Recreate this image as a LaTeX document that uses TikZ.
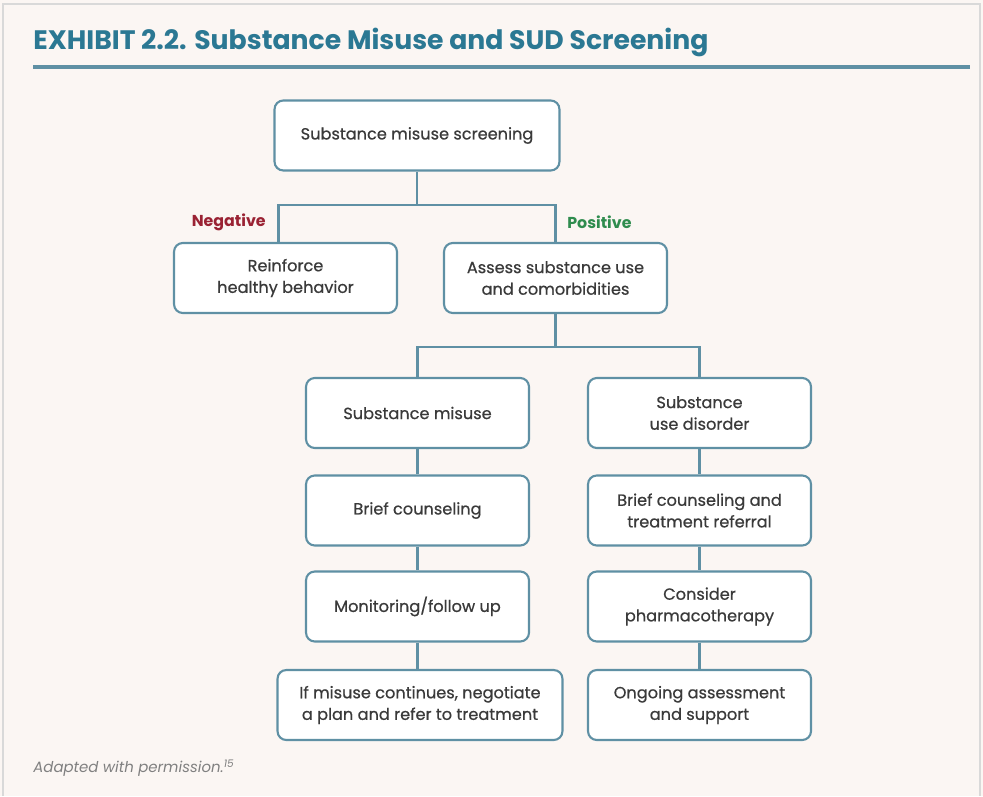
\documentclass[tikz,border=0pt]{standalone}
\usepackage{fontspec}
\setmainfont{Poppins}
\newfontfamily\boxfont{Poppins}[FakeBold=0.6]
\usetikzlibrary{calc}
\definecolor{bgcream}{HTML}{FBF6F3}
\definecolor{boxline}{HTML}{5F90A4}
\definecolor{titleteal}{HTML}{2B7893}
\definecolor{txtgrey}{HTML}{3A3A3A}
\definecolor{negred}{HTML}{9A2233}
\definecolor{posgreen}{HTML}{2F8C4E}
\tikzset{
    punkt/.style={
           rectangle,
           rounded corners=5pt,
           draw=boxline, line width=1.2pt,
           fill=white,
           text=txtgrey,
           font=\boxfont\fontsize{9.2}{12.3}\selectfont,
           align=center,
           minimum width=4.46cm,
           minimum height=1.4cm},
    punktw/.style={
           punkt,
           minimum width=5.7cm},
    verb/.style={draw=boxline, line width=1.2pt},
    tak/.style={inner sep=0pt, font=\fontsize{9}{11}\selectfont\bfseries}
    }
\begin{document}
\begin{tikzpicture}[x=0.02cm,y=-0.02cm]
      \fill[bgcream] (0,0) rectangle (983,796);
      \draw[gray!30, line width=1pt] (3,796) -- (3,4) -- (980,4) -- (980,796);
      \useasboundingbox (0,0) rectangle (983,796);
      % titel
      \node[anchor=west, inner sep=0pt, text=titleteal, font=\fontsize{15.2}{17}\selectfont\bfseries] (titel) at (33,42) {EXHIBIT 2.2. Substance Misuse and SUD Screening};
      \draw[boxline, line width=2.5pt] (33,67) -- (970,67);
      % boxes
      \node[punktw] (scr) at (417,135.5) {Substance misuse screening};
      \node[punkt] (reinf) at (285.5,278) {Reinforce\\healthy behavior};
      \node[punkt] (assess) at (555.5,278) {Assess substance use\\and comorbidities};
      \node[punkt] (misuse) at (417.5,413) {Substance misuse};
      \node[punkt] (sud) at (699.5,413) {Substance\\use disorder};
      \node[punkt] (bc1) at (417.5,510.5) {Brief counseling};
      \node[punkt] (bc2) at (699.5,510.5) {Brief counseling and\\treatment referral};
      \node[punkt] (mon) at (417.5,606.5) {Monitoring/follow up};
      \node[punkt] (pharm) at (699.5,606.5) {Consider\\pharmacotherapy};
      \node[punktw] (plan) at (420,705) {If misuse continues, negotiate\\a plan and refer to treatment};
      \node[punkt] (ongo) at (699.5,705) {Ongoing assessment\\and support};
      \node[tak, text=negred, anchor=east] (neg) at (266,222) {Negative};
      \node[tak, text=posgreen, anchor=west] (pos) at (567,222) {Positive};
      % lijnen
      \coordinate (split1) at (417,205);
      \coordinate (split2) at (555.5,347);
      \draw[verb] (scr.south) -- (split1);
      \draw[verb] ($(reinf.north)+(-7,0)$) |- (split1) -| (assess.north);
      \draw[verb] (assess.south) -- (split2);
      \draw[verb] (misuse.north) |- (split2) -| (sud.north);
      \draw[verb] (misuse) -- (bc1);
      \draw[verb] (bc1) -- (mon);
      \draw[verb] (mon.south) -- (mon.south |- plan.north);
      \draw[verb] (sud) -- (bc2);
      \draw[verb] (bc2) -- (pharm);
      \draw[verb] (pharm) -- (ongo);
      % voetnoot
      \node[anchor=west, inner sep=0pt, text=gray, font=\fontsize{8.5}{10}\selectfont\itshape] (bron) at (33,768) {Adapted with permission.\textsuperscript{15}};
\end{tikzpicture}
\end{document}
